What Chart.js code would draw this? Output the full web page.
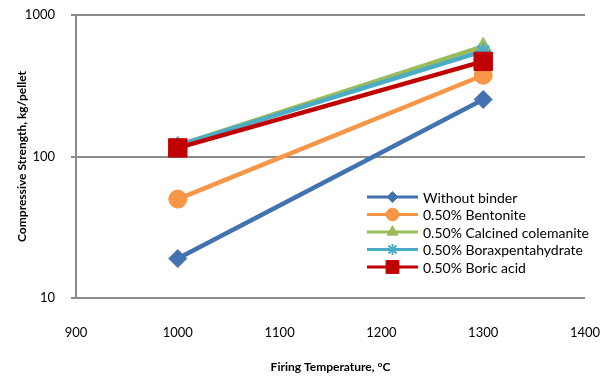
<!DOCTYPE html>
<html>
<head>
<meta charset="utf-8">
<script src="https://cdn.jsdelivr.net/npm/chart.js@4.4.1/dist/chart.umd.min.js"></script>
<style>
  html, body { margin: 0; padding: 0; background: #fff; }
  #wrap { width: 611px; height: 377px; position: relative; }
</style>
</head>
<body>
<div id="wrap"><canvas id="grafica"></canvas></div>
<script>
// --- DATOS ---
const temperaturas = [1000, 1300];
const sinAglutinante = [19, 253];
const bentonita = [50, 375];
const colemanita = [120, 600];
const boraxPenta = [120, 555];
const acidoBorico = [115, 470];
const ticksY = [10, 100, 1000];

const series = [
    { label: 'Without binder',           data: sinAglutinante, color: '#4272B0', estilo: 'rectRot',  radio: 9 },
    { label: '0.50% Bentonite',          data: bentonita,      color: '#F79646', estilo: 'circle',   radio: 9 },
    { label: '0.50% Calcined colemanite', data: colemanita,    color: '#9BBB59', estilo: 'triangle', radio: 9 },
    { label: '0.50% Boraxpentahydrate',  data: boraxPenta,     color: '#4BACC6', estilo: 'star',     radio: 8 },
    { label: '0.50% Boric acid',         data: acidoBorico,    color: '#C00000', estilo: 'rect',     radio: 13 }
];

const fuente = 'Lato, "Open Sans", sans-serif';
const gris = '#8C8C8C';

// quitar el relleno automatico que mete cada escala por sus etiquetas
function sinRelleno(scale) {
    scale.paddingTop = 0;
    scale.paddingBottom = 0;
    scale.paddingLeft = 0;
    scale.paddingRight = 0;
}

// leyenda dibujada dentro del area del grafico
const leyendaPlugin = {
    id: 'leyendaInterna',
    afterDraw(chart) {
        const ctx = chart.ctx;
        const x0 = 367, x1 = 418, y0 = 197, paso = 17.5;
        ctx.save();
        series.forEach((s, i) => {
            const y = y0 + i * paso;
            ctx.strokeStyle = s.color;
            ctx.lineWidth = 3;
            ctx.beginPath();
            ctx.moveTo(x0, y);
            ctx.lineTo(x1, y);
            ctx.stroke();
            ctx.fillStyle = s.color;
            ctx.lineWidth = s.estilo === 'star' ? 2 : 1;
            Chart.helpers.drawPoint(ctx, {
                pointStyle: s.estilo,
                radius: s.radio * (s.estilo === 'rectRot' ? 0.6 : 0.7),
                borderWidth: 1,
                rotation: 0
            }, (x0 + x1) / 2, y);
            ctx.fillStyle = '#000';
            ctx.font = '14px ' + fuente;
            ctx.textBaseline = 'middle';
            ctx.textAlign = 'left';
            ctx.fillText(s.label, 423, y + 1);
        });
        ctx.restore();
    }
};

const ctx = document.getElementById('grafica').getContext('2d');
new Chart(ctx, {
    type: 'line',
    data: {
        datasets: series.map((s, i) => ({
            label: s.label,
            data: temperaturas.map((t, j) => ({ x: t, y: s.data[j] })),
            borderColor: s.color,
            backgroundColor: s.color,
            pointBackgroundColor: s.color,
            pointBorderColor: s.color,
            pointStyle: s.estilo,
            pointRadius: s.radio,
            pointBorderWidth: s.estilo === 'star' ? 3 : 1,
            borderWidth: 4.5,
            tension: 0,
            fill: false,
            order: series.length - i
        }))
    },
    options: {
        responsive: true,
        maintainAspectRatio: false,
        animation: false,
        layout: { autoPadding: false, padding: { top: 15, right: 26, left: 0, bottom: 0 } },
        plugins: { legend: { display: false }, tooltip: { enabled: false } },
        scales: {
            x: {
                type: 'linear',
                min: 900,
                max: 1400,
                ticks: {
                    stepSize: 100,
                    padding: 19,
                    maxRotation: 0,
                    color: '#000',
                    font: { family: fuente, size: 13 },
                    callback: v => String(v)
                },
                grid: { display: false },
                border: { display: false },
                title: {
                    display: true,
                    text: 'Firing Temperature, °C',
                    color: '#000',
                    font: { family: fuente, size: 12, weight: 'bold' },
                    padding: { top: 4, bottom: 3 }
                },
                afterFit(scale) { scale.height = 79; sinRelleno(scale); }
            },
            y: {
                type: 'logarithmic',
                min: 10,
                max: 1000,
                afterBuildTicks(scale) { scale.ticks = ticksY.map(v => ({ value: v })); },
                ticks: {
                    padding: 16,
                    color: '#000',
                    font: { family: fuente, size: 13 },
                    callback: v => String(v)
                },
                grid: { color: gris, lineWidth: 2, tickLength: 5, drawTicks: true },
                border: { display: true, color: gris, width: 2 },
                title: {
                    display: true,
                    text: 'Compressive Strength, kg/pellet',
                    color: '#000',
                    font: { family: fuente, size: 12, weight: 'bold' },
                    padding: { top: 15, bottom: 4 }
                },
                afterFit(scale) { scale.width = 76; sinRelleno(scale); }
            }
        }
    },
    plugins: [leyendaPlugin]
});
</script>
</body>
</html>
